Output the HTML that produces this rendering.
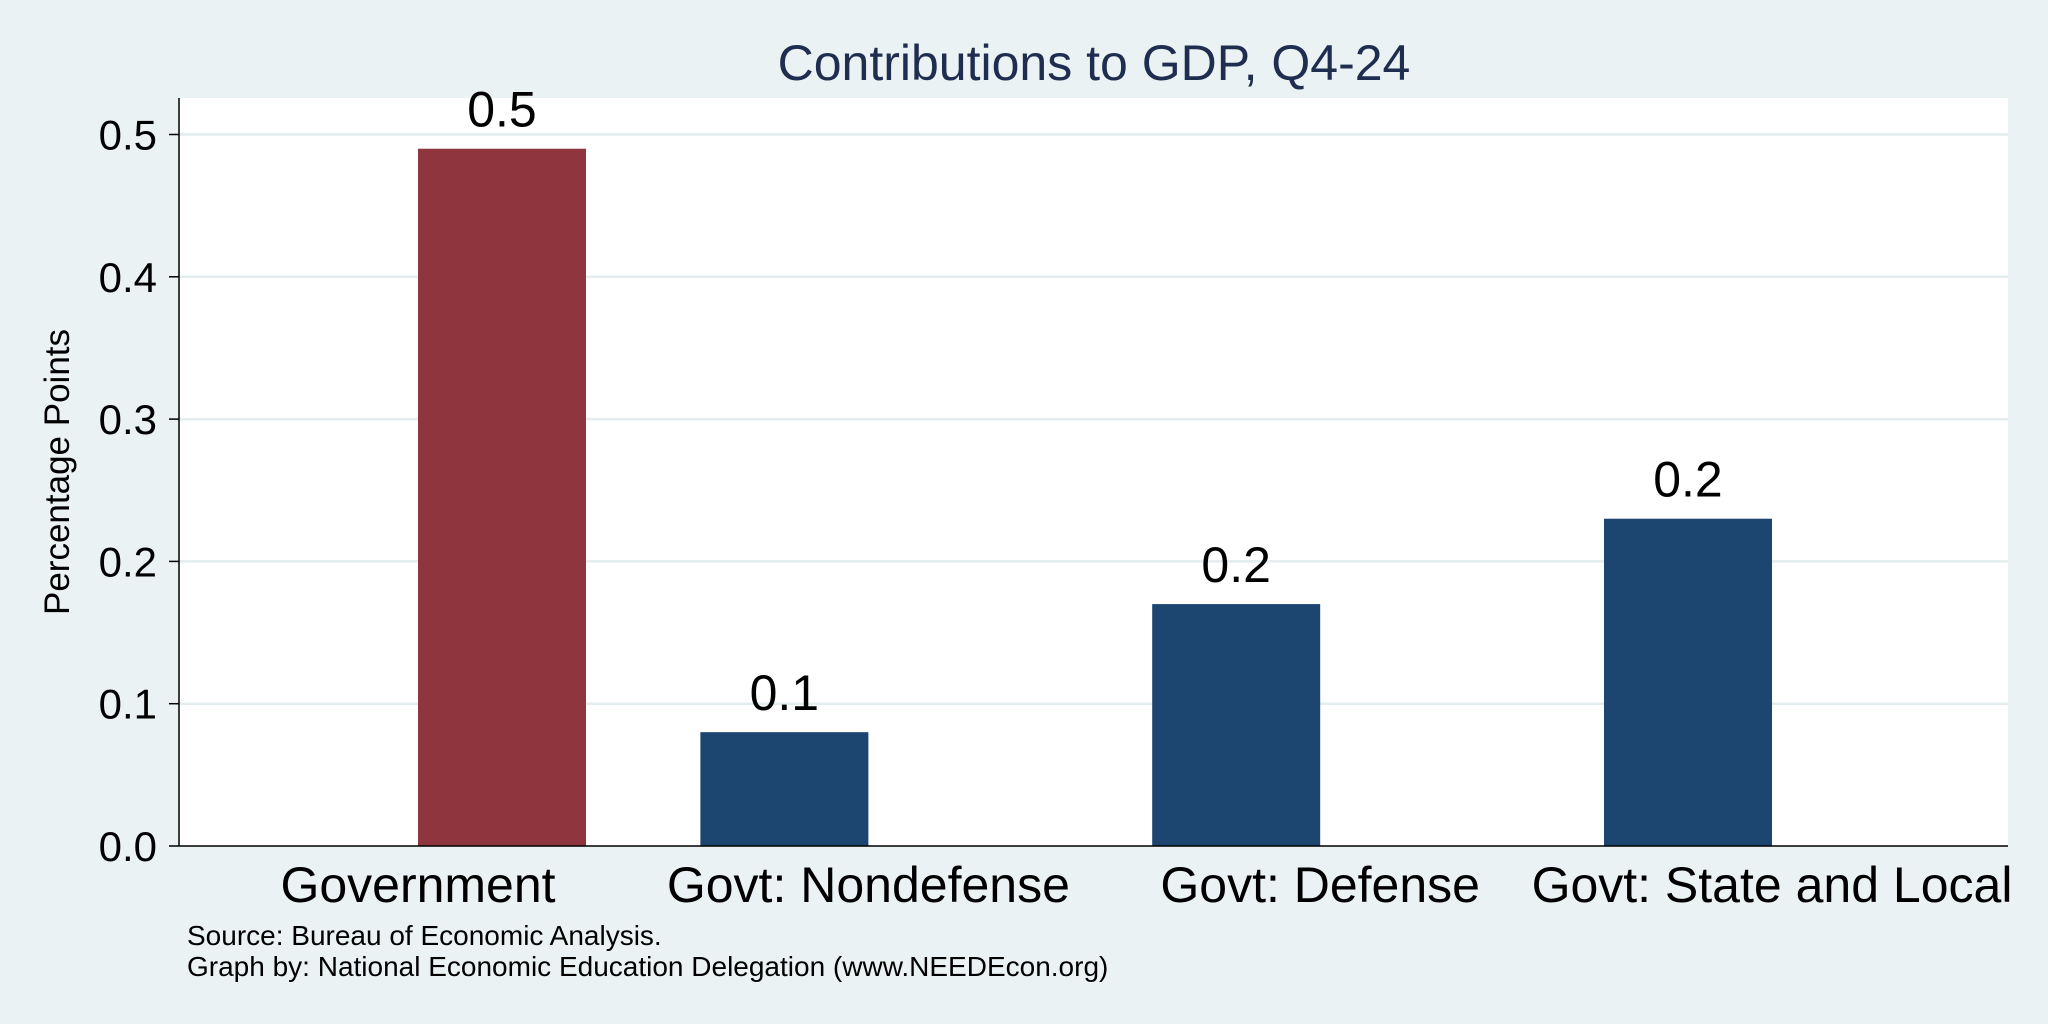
<!DOCTYPE html>
<html><head><meta charset="utf-8"><style>
html,body{margin:0;padding:0;background:#eaf2f3;}
svg{display:block;font-family:"Liberation Sans",Arial,sans-serif;}
</style></head><body>
<svg id="chart" width="2048" height="1024" xmlns="http://www.w3.org/2000/svg">
<rect x="0" y="0" width="2048" height="1024" fill="#eaf2f3"/>
<rect x="179" y="98" width="1829" height="748" fill="#ffffff"/>
<text x="1094" y="80" text-anchor="middle" font-size="50" fill="#1f2d50">Contributions to GDP, Q4-24</text>
<text transform="translate(69,472) rotate(-90)" text-anchor="middle" font-size="35" fill="#000">Percentage Points</text>
<g id="grid"></g><g id="bars"></g><g id="axes"></g>
<text x="187" y="945" font-size="28" fill="#000">Source: Bureau of Economic Analysis.</text>
<text x="187" y="976" font-size="28" fill="#000">Graph by: National Economic Education Delegation (www.NEEDEcon.org)</text>
</svg>
<script>
const categories=["Government","Govt: Nondefense","Govt: Defense","Govt: State and Local"];
const values=[0.49,0.08,0.17,0.23];
const valueLabels=["0.5","0.1","0.2","0.2"];
const xSlot=[0,1,2.6,4.2];
const yTicks=[0,0.1,0.2,0.3,0.4,0.5];
const yTickLabels=["0.0","0.1","0.2","0.3","0.4","0.5"];
const barColors=["#8f353d","#1c4670","#1c4670","#1c4670"];
const NS="http://www.w3.org/2000/svg";
const y=v=>846-v*1423;
const x=s=>502+s*(1688-502)/4.2;
const bw=168;
function mk(tag,attrs,parent,text){const e=document.createElementNS(NS,tag);for(const k in attrs)e.setAttribute(k,attrs[k]);if(text!==undefined)e.textContent=text;parent.appendChild(e);return e;}
const grid=document.getElementById('grid'),bars=document.getElementById('bars'),axes=document.getElementById('axes');
yTicks.forEach((t,i)=>{
  if(t>0){const g=mk('line',{x1:179,x2:2008,y1:y(t),y2:y(t),stroke:'#e3ecee','stroke-width':2.5},grid);
  
  }
  const tk=mk('line',{x1:169,x2:179,y1:y(t),y2:y(t),stroke:'#000','stroke-width':1.5},axes);
  
  
  const tl=mk('text',{x:157,y:y(t)+15,'text-anchor':'end','font-size':42,fill:'#000'},axes,yTickLabels[i]);
  
  
});
categories.forEach((c,i)=>{
  const cx=x(xSlot[i]);
  const r=mk('rect',{x:cx-bw/2,y:y(values[i]),width:bw,height:y(0)-y(values[i]),fill:barColors[i]},bars);
  
  
  const vl=mk('text',{x:cx,y:y(values[i])-22,'text-anchor':'middle','font-size':50,fill:'#000'},bars,valueLabels[i]);
  
  
  const lx=i===0?cx-bw/2:cx+bw/2;
  const cl=mk('text',{x:lx,y:902,'text-anchor':'middle','font-size':50,fill:'#000'},axes,c);
  
  
});
const ya=mk('line',{x1:179,x2:179,y1:98,y2:846,stroke:'#000','stroke-width':1.5},axes);


const xa=mk('line',{x1:179,x2:2008,y1:846,y2:846,stroke:'#000','stroke-width':1.5},axes);


</script>
</body></html>
